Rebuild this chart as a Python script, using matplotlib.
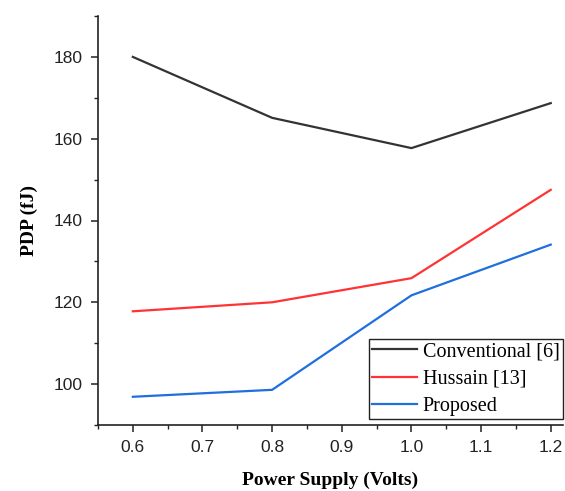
import matplotlib
matplotlib.use("Agg")
import matplotlib.pyplot as plt
from matplotlib.ticker import MultipleLocator

voltage = [0.6, 0.8, 1.0, 1.2]
conventional = [180.0, 165.1, 157.7, 168.7]
hussain = [117.8, 120.0, 125.9, 147.5]
proposed = [96.9, 98.6, 121.7, 134.1]

series_names = ["Conventional [6]", "Hussain [13]", "Proposed"]
colors = ["#333333", "#ff3333", "#1f6fdc"]

fig = plt.figure(figsize=(5.65, 4.91), dpi=100)
ax = fig.add_axes([98/565, 66/491, 465/565, 409/491])

for ys, name, c in zip([conventional, hussain, proposed], series_names, colors):
    ax.plot(voltage, ys, color=c, lw=1.6, label=name)

ax.set_xlim(0.55, 1.2176)
ax.set_ylim(90, 190)
ax.xaxis.set_major_locator(MultipleLocator(0.1))
ax.xaxis.set_minor_locator(MultipleLocator(0.05))
ax.yaxis.set_major_locator(MultipleLocator(20))
ax.yaxis.set_minor_locator(MultipleLocator(10))
ax.xaxis.set_major_formatter(plt.FuncFormatter(lambda v, p: f"{v:.1f}"))

for s in ["top", "right"]:
    ax.spines[s].set_visible(False)
for s in ["left", "bottom"]:
    ax.spines[s].set_linewidth(1.2)
    ax.spines[s].set_color("#222222")

ax.tick_params(which="major", direction="out", length=5, width=1.1, colors="#222222",
               labelsize=12.5, pad=6)
ax.tick_params(which="minor", direction="out", length=3, width=1.0, colors="#222222")
for lab in ax.get_xticklabels() + ax.get_yticklabels():
    lab.set_fontfamily("Liberation Sans")

ax.set_xlabel("Power Supply (Volts)", fontfamily="Liberation Serif", fontweight="bold",
              fontsize=14, labelpad=12)
ax.set_ylabel("PDP (fJ)", fontfamily="Liberation Serif", fontweight="bold",
              fontsize=14, labelpad=11)

leg = ax.legend(loc="lower right", bbox_to_anchor=(0.999, 0.015), borderaxespad=0,
                prop={"family": "Liberation Serif", "size": 14.5}, frameon=True,
                fancybox=False, edgecolor="#222222", framealpha=1,
                handlelength=2.2, handletextpad=0.3, labelspacing=0.4,
                borderpad=0.15)
leg.get_frame().set_linewidth(1.0)

fig.savefig("out.png", dpi=100)
